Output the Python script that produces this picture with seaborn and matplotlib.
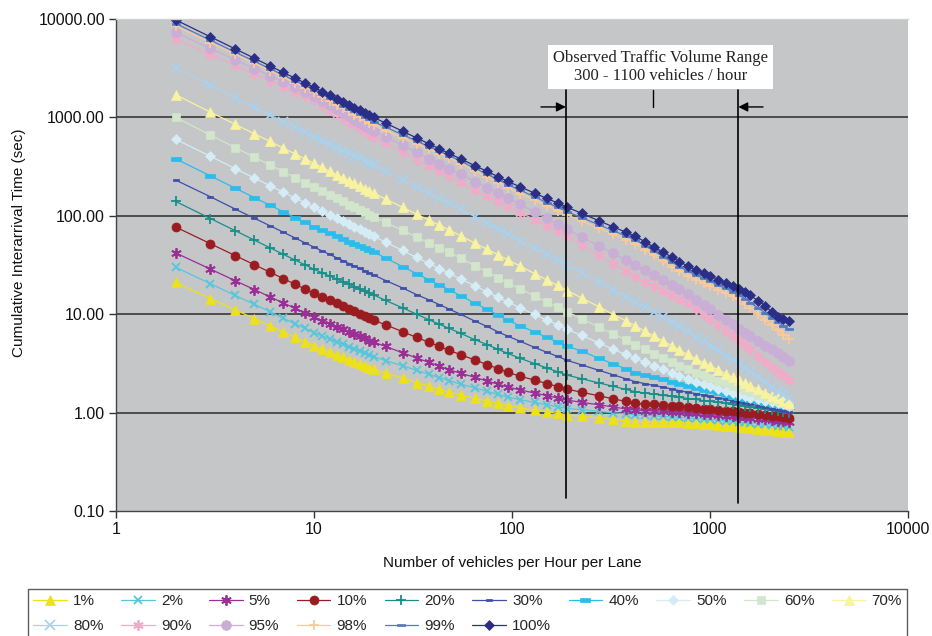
import numpy as np
import pandas as pd
import matplotlib
matplotlib.use("Agg")
import matplotlib.pyplot as plt
import seaborn as sns
from matplotlib.path import Path
from matplotlib.ticker import NullLocator

# ---------------- data ----------------
X_VALS = [2, 3, 4, 5, 6, 7, 8, 9, 10, 11, 12, 13, 14, 15, 16, 17, 18, 19, 20,
          23, 28, 33, 38, 43, 48, 55, 65, 75, 85, 95, 110, 130, 150, 170, 190, 225, 275, 325, 375,
          420, 470, 520, 580, 640, 700, 770, 850, 930, 1000, 1100, 1200, 1300, 1400, 1500, 1600,
          1750, 1900, 2050, 2200, 2350, 2500]

p100 = [9800, 6580, 4970, 3990, 3330, 2860, 2510, 2240, 2020, 1830, 1680, 1550, 1440, 1340, 1250, 1180, 1110, 1050, 1000,
        875, 724, 618, 540, 480, 432, 379, 323, 282, 250, 224, 197, 170, 150, 135, 122, 106, 88.9, 77.1, 68.2,
        62, 54.3, 48.3, 42.7, 38.0, 34.3, 30.9, 28.3, 26.1, 24.5, 22.5, 20.8, 19.4, 18.2, 16.7, 15.5, 13.7, 12.2, 10.5, 9.3, 8.9, 8.6]
p99 = [9000, 6080, 4600, 3720, 3120, 2690, 2360, 2110, 1900, 1710, 1560, 1440, 1320, 1230, 1150, 1080, 1010, 955, 904,
       796, 667, 574, 506, 454, 410, 360, 304, 264, 233, 208, 182, 156, 136, 122, 110, 95.7, 80.9, 70.5, 62.5,
       57, 49.7, 43.9, 38.4, 34.0, 30.5, 27.4, 25.0, 23.1, 21.6, 19.8, 18.3, 17.0, 15.8, 14.4, 13.1, 11.6, 10.3, 9.2, 8.4, 7.6, 7.0]
p98 = [8500, 5750, 4380, 3530, 2970, 2560, 2250, 2010, 1820, 1630, 1480, 1350, 1240, 1150, 1070, 998, 935, 879, 830,
       735, 619, 537, 475, 428, 389, 340, 286, 246, 217, 193, 168, 144, 126, 113, 102, 88.5, 74.6, 64.7, 57.3,
       52, 45.1, 39.7, 34.6, 30.5, 27.3, 24.4, 22.4, 20.7, 19.4, 17.8, 16.5, 15.4, 14.3, 12.8, 11.5, 10.0, 8.7, 7.7, 6.9, 6.2, 5.6]
p95 = [7300, 5020, 3850, 3140, 2650, 2310, 2040, 1830, 1660, 1480, 1340, 1210, 1110, 1030, 948, 883, 826, 773, 728,
       632, 519, 440, 382, 337, 302, 264, 223, 193, 171, 152, 131, 109, 94.0, 82.2, 73, 61.1, 49.4, 41.4, 35.6,
       31.6, 27.9, 24.9, 22.1, 19.8, 17.9, 16.0, 14.0, 12.4, 11.2, 9.9, 8.8, 7.9, 7.1, 6.5, 6.0, 5.3, 4.8, 4.4, 4.0, 3.7, 3.37]
p90 = [6200, 4340, 3370, 2760, 2360, 2060, 1830, 1650, 1500, 1330, 1200, 1080, 986, 906, 836, 774, 721, 673, 632,
       546, 443, 372, 321, 282, 251, 218, 184, 159, 141, 125, 108, 91.2, 78.9, 69.5, 62, 50.7, 39.8, 32.6, 27.5,
       24, 21.4, 19.4, 17.3, 15.7, 14.4, 12.9, 11.2, 9.8, 8.9, 7.7, 6.8, 6.1, 5.4, 4.9, 4.4, 3.8, 3.3, 2.9, 2.6, 2.4, 2.14]
p80 = [3170, 2110, 1580, 1270, 1060, 904, 791, 703, 632, 578, 532, 493, 460, 431, 406, 383, 363, 344, 328,
       284, 233, 197, 171, 151, 135, 117, 97.7, 83.9, 73.6, 65.3, 56.1, 47.1, 40.6, 35.6, 31.6, 26.4, 21.2, 17.7, 15.1,
       13.4, 11.8, 10.5, 9.3, 8.3, 7.5, 6.7, 5.9, 5.3, 4.8, 4.3, 3.8, 3.4, 3.13, 2.84, 2.6, 2.3, 2.05, 1.84, 1.67, 1.53, 1.40]
p70 = [1700, 1130, 851, 681, 569, 488, 427, 379, 341, 310, 284, 262, 243, 227, 213, 200, 189, 179, 170,
       148, 122, 104, 90.4, 80.2, 71.9, 62.7, 52.7, 45.6, 40.2, 35.7, 30.8, 25.8, 22.3, 19.6, 17.4, 14.6, 11.9, 9.9, 8.6,
       7.6, 6.7, 6.0, 5.3, 4.8, 4.3, 3.9, 3.5, 3.2, 2.99, 2.72, 2.48, 2.29, 2.12, 1.99, 1.87, 1.73, 1.60, 1.49, 1.40, 1.31, 1.24]
p60 = [1000, 662, 494, 394, 328, 281, 245, 217, 195, 177, 163, 150, 140, 130, 122, 115, 109, 103, 98,
       85.7, 71.1, 60.8, 53.2, 47.4, 42.7, 37.2, 31.1, 26.8, 23.5, 20.9, 18.1, 15.3, 13.3, 11.8, 10.6, 9.0, 7.4, 6.3, 5.5,
       4.9, 4.4, 3.98, 3.59, 3.27, 2.99, 2.75, 2.55, 2.39, 2.26, 2.11, 1.98, 1.86, 1.76, 1.68, 1.61, 1.52, 1.44, 1.37, 1.31, 1.25, 1.2]
p50 = [600, 402, 302, 242, 202, 174, 152, 136, 122, 111, 102, 94.4, 87.7, 82.0, 77.1, 72.6, 68.7, 65.0, 62,
       54.0, 44.4, 37.7, 32.8, 29.0, 26.1, 22.8, 19.4, 16.8, 14.9, 13.3, 11.6, 9.95, 8.7, 7.8, 7.0, 6.1, 5.1, 4.4, 3.9,
       3.56, 3.25, 3.0, 2.75, 2.54, 2.37, 2.2, 2.07, 1.95, 1.86, 1.75, 1.66, 1.57, 1.51, 1.46, 1.42, 1.37, 1.32, 1.28, 1.25, 1.21, 1.18]
p40 = [380, 254, 191, 153, 128, 110, 95.9, 85.5, 77, 71.0, 66.1, 61.7, 57.9, 54.7, 51.8, 49.3, 47.0, 44.8, 43,
       37.2, 30.5, 25.8, 22.4, 19.8, 17.7, 15.4, 12.9, 11.2, 9.8, 8.7, 7.6, 6.6, 5.8, 5.2, 4.75, 4.2, 3.56, 3.12, 2.79,
       2.55, 2.41, 2.29, 2.17, 2.06, 1.97, 1.88, 1.79, 1.71, 1.65, 1.57, 1.51, 1.45, 1.40, 1.36, 1.34, 1.30, 1.26, 1.23, 1.20, 1.17, 1.15]
p30 = [231, 156, 117, 94.4, 79.1, 68.1, 59.7, 53.2, 48, 43.9, 40.5, 37.5, 35.0, 32.7, 30.8, 29.2, 27.6, 26.2, 25,
       22.0, 18.5, 15.8, 14.0, 12.5, 11.3, 9.98, 8.5, 7.5, 6.6, 6.0, 5.3, 4.6, 4.1, 3.72, 3.4, 3.05, 2.69, 2.42, 2.21,
       2.06, 1.97, 1.89, 1.81, 1.74, 1.67, 1.61, 1.56, 1.50, 1.46, 1.41, 1.36, 1.32, 1.29, 1.25, 1.22, 1.18, 1.14, 1.10, 1.07, 1.05, 1.02]
p20 = [140, 93.8, 70.6, 56.6, 47.3, 40.6, 35.6, 31.8, 28.6, 26.3, 24.4, 22.8, 21.4, 20.1, 19.1, 18.1, 17.2, 16.4, 15.7,
       13.8, 11.6, 10.0, 8.8, 7.9, 7.2, 6.4, 5.5, 4.9, 4.4, 4.0, 3.56, 3.15, 2.84, 2.6, 2.4, 2.21, 2.0, 1.85, 1.72,
       1.63, 1.58, 1.54, 1.50, 1.46, 1.43, 1.39, 1.36, 1.32, 1.30, 1.27, 1.24, 1.21, 1.19, 1.16, 1.14, 1.11, 1.08, 1.06, 1.04, 1.02, 1.0]
p10 = [77, 52.0, 39.4, 31.8, 26.7, 23.0, 20.2, 18.0, 16.3, 14.9, 13.8, 12.9, 12.0, 11.3, 10.7, 10.1, 9.6, 9.1, 8.7,
       7.8, 6.65, 5.8, 5.2, 4.7, 4.3, 3.88, 3.42, 3.07, 2.8, 2.57, 2.34, 2.14, 1.97, 1.84, 1.73, 1.61, 1.48, 1.38, 1.30,
       1.24, 1.22, 1.21, 1.19, 1.17, 1.16, 1.15, 1.12, 1.10, 1.09, 1.07, 1.05, 1.03, 1.02, 1.0, 0.99, 0.97, 0.95, 0.93, 0.92, 0.90, 0.89]
p5 = [42, 28.7, 21.9, 17.8, 15.0, 13.0, 11.5, 10.3, 9.3, 8.6, 8.0, 7.4, 7.0, 6.6, 6.3, 6.0, 5.7, 5.4, 5.2,
      4.7, 4.06, 3.59, 3.24, 2.96, 2.73, 2.51, 2.28, 2.09, 1.95, 1.82, 1.70, 1.58, 1.49, 1.41, 1.34, 1.27, 1.20, 1.14, 1.09,
      1.06, 1.05, 1.04, 1.03, 1.02, 1.01, 0.995, 0.98, 0.97, 0.96, 0.94, 0.93, 0.92, 0.91, 0.90, 0.885, 0.87, 0.855, 0.84, 0.83, 0.82, 0.81]
p2 = [30, 20.4, 15.5, 12.6, 10.6, 9.1, 8.0, 7.2, 6.5, 6.0, 5.6, 5.25, 4.94, 4.68, 4.44, 4.23, 4.03, 3.85, 3.7,
      3.38, 2.99, 2.69, 2.45, 2.27, 2.11, 1.95, 1.78, 1.64, 1.53, 1.44, 1.35, 1.27, 1.20, 1.15, 1.1, 1.07, 1.03, 0.995, 0.97,
      0.95, 0.94, 0.93, 0.917, 0.906, 0.90, 0.885, 0.873, 0.861, 0.851, 0.839, 0.828, 0.817, 0.807, 0.796, 0.787, 0.773, 0.760, 0.748, 0.738, 0.728, 0.72]
p1 = [21, 14.4, 11.1, 9.0, 7.6, 6.6, 5.85, 5.25, 4.75, 4.41, 4.12, 3.86, 3.65, 3.45, 3.28, 3.13, 2.99, 2.86, 2.75,
      2.52, 2.24, 2.02, 1.86, 1.72, 1.61, 1.51, 1.40, 1.31, 1.24, 1.18, 1.12, 1.06, 1.02, 0.98, 0.95, 0.918, 0.881, 0.853, 0.828,
      0.81, 0.807, 0.804, 0.800, 0.797, 0.794, 0.787, 0.776, 0.766, 0.757, 0.746, 0.736, 0.726, 0.718, 0.708, 0.697, 0.683, 0.670, 0.659, 0.649, 0.638, 0.63]

SERIES_LABELS = ["1%", "2%", "5%", "10%", "20%", "30%", "40%", "50%",
                 "60%", "70%", "80%", "90%", "95%", "98%", "99%", "100%"]
SERIES_VALUES = [p1, p2, p5, p10, p20, p30, p40, p50, p60, p70, p80, p90, p95, p98, p99, p100]

X_TICKS = [1, 10, 100, 1000, 10000]
Y_TICKS = [0.1, 1, 10, 100, 1000, 10000]
GRID_Y = [1, 10, 100, 1000]

RANGE_LOW, RANGE_HIGH = 187, 1390   # observed volume range lines

# ---------------- styling ----------------
sns.set_theme(style="white")
plt.rcParams["font.family"] = ["Liberation Sans", "DejaVu Sans"]

RECT = Path([(-1, -0.35), (1, -0.35), (1, 0.35), (-1, 0.35), (-1, -0.35)],
            [Path.MOVETO, Path.LINETO, Path.LINETO, Path.LINETO, Path.CLOSEPOLY])
AST = (6, 2, 0)

STYLES = {
    "1%":   dict(color="#EDE21A", marker="^", ms=6.5, mew=0.5),
    "2%":   dict(color="#55C6DC", marker="x", ms=6.0, mew=1.3),
    "5%":   dict(color="#9A2F96", marker=AST, ms=7.5, mew=1.3),
    "10%":  dict(color="#9B1C20", marker="o", ms=6.5, mew=0.5),
    "20%":  dict(color="#168F8A", marker="+", ms=7.5, mew=1.3),
    "30%":  dict(color="#3D4FA8", marker=RECT, ms=5.0, mew=0.5),
    "40%":  dict(color="#2ABDEB", marker=RECT, ms=7.0, mew=0.5),
    "50%":  dict(color="#D4ECF5", marker="D", ms=5.0, mew=0.5),
    "60%":  dict(color="#D2E6CC", marker="s", ms=6.0, mew=0.5),
    "70%":  dict(color="#F8F3A0", marker="^", ms=7.0, mew=0.5),
    "80%":  dict(color="#A9D2EF", marker="x", ms=6.5, mew=1.3),
    "90%":  dict(color="#F3A9C8", marker=AST, ms=7.5, mew=1.3),
    "95%":  dict(color="#C9AED6", marker="o", ms=7.0, mew=0.5),
    "98%":  dict(color="#FDC996", marker="+", ms=7.5, mew=1.3),
    "99%":  dict(color="#5079BF", marker=RECT, ms=6.0, mew=0.5),
    "100%": dict(color="#2A2E86", marker="D", ms=5.5, mew=0.5),
}

fig = plt.figure(figsize=(9.32, 6.36), dpi=100)
ax = fig.add_axes([116 / 932, 1 - 511 / 636, 792 / 932, 492 / 636])
ax.set_facecolor("#C5C6C8")

for gy in GRID_Y:
    ax.axhline(gy, color="#2B2B2B", linewidth=1.1, zorder=0.5)

for label, vals in zip(SERIES_LABELS, SERIES_VALUES):
    df = pd.DataFrame({"x": X_VALS, "y": vals})
    st = STYLES[label]
    sns.lineplot(data=df, x="x", y="y", ax=ax, color=st["color"], marker=st["marker"],
                 markersize=st["ms"], markeredgewidth=st["mew"], markeredgecolor=st["color"],
                 markerfacecolor=st["color"], linewidth=0.9, label=label,
                 errorbar=None, sort=False)

if ax.get_legend() is not None:
    ax.get_legend().remove()

ax.set_xscale("log")
ax.set_yscale("log")
ax.set_xlim(1, 10000)
ax.set_ylim(0.1, 10000)
ax.set_xticks(X_TICKS)
ax.set_xticklabels([f"{t:d}" for t in X_TICKS])
ax.set_yticks(Y_TICKS)
ax.set_yticklabels([f"{t:.2f}" for t in Y_TICKS])
ax.xaxis.set_minor_locator(NullLocator())
ax.yaxis.set_minor_locator(NullLocator())
ax.tick_params(axis="both", which="major", direction="out", length=5, width=1,
               color="#333333", labelsize=11.5, labelcolor="#111111", pad=3,
               left=True, bottom=True)
ax.grid(False)
ax.spines["right"].set_visible(False)
ax.spines["top"].set_color("#D0D0D0")
ax.spines["top"].set_linewidth(1.0)
for s in ["left", "bottom"]:
    ax.spines[s].set_color("#444444")
    ax.spines[s].set_linewidth(1.0)
ax.set_xlabel("")
ax.set_ylabel("")

fig.text(512 / 932, 1 - 563 / 636, "Number of vehicles per Hour per Lane",
         ha="center", va="center", fontsize=11, color="#111111")
fig.text(19 / 932, 1 - 243 / 636, "Cumulative Interarrival Time (sec)",
         ha="center", va="center", rotation=90, fontsize=11, color="#111111")

# ---------------- annotation ----------------
ax.plot([RANGE_LOW, RANGE_LOW], [0.135, 1897], color="black", lw=1.2)
ax.plot([RANGE_HIGH, RANGE_HIGH], [0.12, 1897], color="black", lw=1.2)
ax.plot([515, 515], [1277, 1897], color="black", lw=1.0)
ax.annotate("", xy=(RANGE_LOW, 1277), xytext=(140, 1277),
            arrowprops=dict(arrowstyle="-|>", color="black", lw=1.0, mutation_scale=14,
                            shrinkA=0, shrinkB=0))
ax.annotate("", xy=(RANGE_HIGH, 1277), xytext=(1853, 1277),
            arrowprops=dict(arrowstyle="-|>", color="black", lw=1.0, mutation_scale=14,
                            shrinkA=0, shrinkB=0))
ax.text(562, 3250, "Observed Traffic Volume Range\n300 - 1100 vehicles / hour",
        ha="center", va="center", fontsize=12, family=["Liberation Serif", "DejaVu Serif"],
        color="#222222", linespacing=1.15,
        bbox=dict(boxstyle="square,pad=0.3", facecolor="white", edgecolor="none"))

# ---------------- legend (row-major order: 10 entries on row 1, 6 on row 2) ----------------
handles, labels = ax.get_legend_handles_labels()
NCOL = 10
row1 = list(range(0, NCOL))
row2 = list(range(NCOL, len(labels)))
order = []
for j in range(NCOL):
    order.append(row1[j])
    if j < len(row2):
        order.append(row2[j])
leg = fig.legend([handles[i] for i in order], [labels[i] for i in order], ncol=NCOL,
                 loc="upper left", bbox_to_anchor=(28 / 932, 1 - 589 / 636), frameon=True,
                 fancybox=False, edgecolor="#333333", fontsize=11, handlelength=2.2,
                 columnspacing=1.15, handletextpad=0.4, borderpad=0.35, labelspacing=0.7,
                 borderaxespad=0)
leg.get_frame().set_linewidth(1.0)

fig.savefig("out.png", dpi=100)
